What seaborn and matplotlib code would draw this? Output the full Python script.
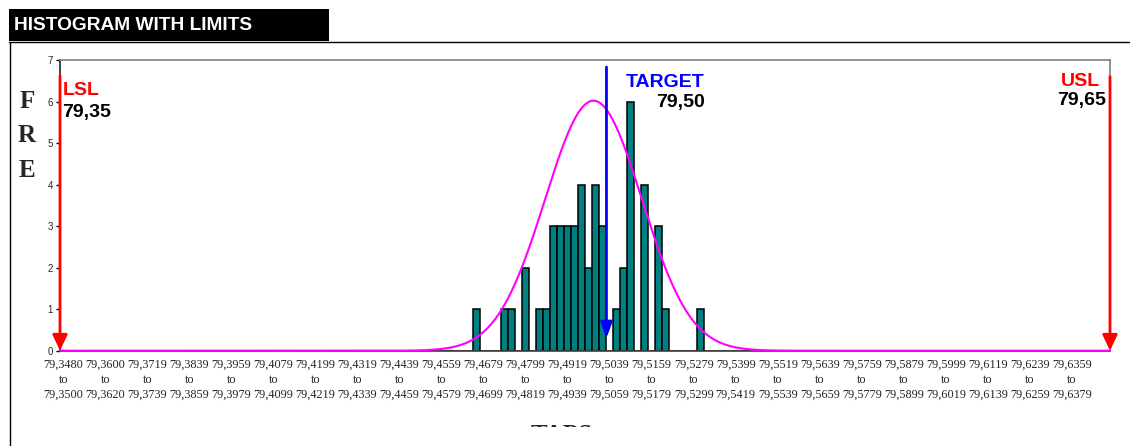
import numpy as np
import pandas as pd
import matplotlib
matplotlib.use("Agg")
import matplotlib.pyplot as plt
from matplotlib.patches import Rectangle
from matplotlib.lines import Line2D
from matplotlib.transforms import Bbox, TransformedBbox
import seaborn as sns

# ---------------- data ----------------
BIN_START = 79.3480          # lower bound of first class
BIN_WIDTH = 0.0019983        # class width
N_BINS = 150

# lower bound of each non-empty class and its frequency
class_lower = [79.4659, 79.4739, 79.4759, 79.4799, 79.4839, 79.4859, 79.4879,
               79.4899, 79.4919, 79.4939, 79.4959, 79.4979, 79.4999, 79.5019,
               79.5059, 79.5079, 79.5099, 79.5139, 79.5179, 79.5199, 79.5299]
class_count = [1, 1, 1, 2, 1, 1, 3,
               3, 3, 3, 4, 2, 4, 3,
               1, 2, 6, 4, 3, 1, 1]

tick_low = ["79,3480", "79,3600", "79,3719", "79,3839", "79,3959", "79,4079",
            "79,4199", "79,4319", "79,4439", "79,4559", "79,4679", "79,4799",
            "79,4919", "79,5039", "79,5159", "79,5279", "79,5399", "79,5519",
            "79,5639", "79,5759", "79,5879", "79,5999", "79,6119", "79,6239",
            "79,6359"]
tick_high = ["79,3500", "79,3620", "79,3739", "79,3859", "79,3979", "79,4099",
             "79,4219", "79,4339", "79,4459", "79,4579", "79,4699", "79,4819",
             "79,4939", "79,5059", "79,5179", "79,5299", "79,5419", "79,5539",
             "79,5659", "79,5779", "79,5899", "79,6019", "79,6139", "79,6259",
             "79,6379"]

LSL = 79.35
USL = 79.65
TARGET = 79.50
TARGET_MARKER_POS = 79.5040   # where the chart draws the target arrow

# fitted normal curve parameters
FIT_MEAN = 79.5003
FIT_SIGMA = 0.0138
FIT_PEAK = 6.02

Y_MAX = 7

# ---------------- styling ----------------
sns.set_style("white")
plt.rcParams["font.family"] = ["Liberation Sans", "DejaVu Sans"]

W, H = 1130, 446
fig = plt.figure(figsize=(W / 100, H / 100), dpi=100)

def fx(px):
    return px / W

def fy(py):
    return 1 - py / H

ax_left, ax_right, ax_top, ax_bottom = 60, 1110, 60, 350.7
ax = fig.add_axes([fx(ax_left), fy(ax_bottom), fx(ax_right - ax_left),
                   (ax_bottom - ax_top) / H])

x_lo = BIN_START
x_hi = BIN_START + N_BINS * BIN_WIDTH
edges = [BIN_START + i * BIN_WIDTH for i in range(N_BINS + 1)]

df = pd.DataFrame({"centre": np.array(class_lower) + BIN_WIDTH / 2,
                   "count": class_count})

sns.histplot(data=df, x="centre", weights="count", bins=edges, ax=ax,
             color="#008080", edgecolor="black", linewidth=1.1, alpha=1,
             shrink=1, zorder=2)

# normal curve
xs = np.linspace(x_lo, x_hi, 1200)
curve = pd.DataFrame({"x": xs,
                      "y": FIT_PEAK * np.exp(-0.5 * ((xs - FIT_MEAN) / FIT_SIGMA) ** 2)})
sns.lineplot(data=curve, x="x", y="y", ax=ax, color="#FF00FF", linewidth=1.5,
             zorder=3, clip_on=False)

ax.set_xlim(x_lo, x_hi)
ax.set_ylim(0, Y_MAX)
ax.set_xlabel("")
ax.set_ylabel("")

tick_pos = [float(s.replace(",", ".")) + BIN_WIDTH / 2 for s in tick_low]
ax.set_xticks(tick_pos)
ax.set_xticklabels([f"{a}\nto\n{b}" for a, b in zip(tick_low, tick_high)],
                   fontfamily="Liberation Serif", fontsize=8.8, linespacing=1.38)
ax.tick_params(axis="x", length=0, pad=5.5)
ax.set_yticks(range(0, Y_MAX + 1))
ax.tick_params(axis="y", length=3, width=1, pad=2, labelsize=7, left=True,
               color="black")

for side in ["top", "right"]:
    ax.spines[side].set_color("#808080")
    ax.spines[side].set_linewidth(1.2)
ax.spines["left"].set_color("#202020")
ax.spines["left"].set_linewidth(1.2)
ax.spines["bottom"].set_color("#404040")
ax.spines["bottom"].set_linewidth(1.2)
for s in ax.spines.values():
    s.set_visible(True)

# limit arrows
def arrow(x, y0, y1, color, hw):
    ax.annotate("", xy=(x, y1), xytext=(x, y0),
                arrowprops=dict(arrowstyle=f"-|>,head_length=0.95,head_width={hw}",
                                lw=2, color=color, shrinkA=0, shrinkB=0,
                                mutation_scale=10),
                annotation_clip=False, zorder=5)

arrow(x_lo, 6.62, 0.0, "#FF0000", 0.45)
arrow(x_hi, 6.6, 0.0, "#FF0000", 0.45)
arrow(TARGET_MARKER_POS, 6.83, 0.3, "#0000FF", 0.35)

fmt = lambda v: f"{v:.2f}".replace(".", ",")
bold = dict(fontweight="bold", fontsize=14)
fig.text(fx(63), fy(90.5), "LSL", color="#FF0000", ha="left", va="center", **bold)
fig.text(fx(62), fy(112), fmt(LSL), color="black", ha="left", va="center", **bold)
fig.text(fx(1100), fy(81), "USL", color="#FF0000", ha="right", va="center", **bold)
fig.text(fx(1106), fy(100), fmt(USL), color="black", ha="right", va="center", **bold)
fig.text(fx(705), fy(82.5), "TARGET", color="#0000FF", ha="right", va="center", **bold)
fig.text(fx(705), fy(102.5), fmt(TARGET), color="black", ha="right", va="center", **bold)

# vertical axis letters
for letter, yy in zip("FRE", [101.7, 136, 170.7]):
    fig.text(fx(27), fy(yy), letter, fontfamily="Liberation Serif",
             fontweight="bold", fontsize=18, ha="center", va="center")

# header bar
fig.add_artist(Rectangle((fx(9), fy(41)), fx(320), (41 - 9) / H,
                         transform=fig.transFigure, facecolor="black",
                         edgecolor="none"))
fig.text(fx(14), fy(25), "HISTOGRAM WITH LIMITS", color="white",
         fontweight="bold", fontsize=13.8, ha="left", va="center")

# outer frame lines
fig.add_artist(Line2D([fx(9), 1], [fy(42.3), fy(42.3)], color="black", lw=1,
                      transform=fig.transFigure))
fig.add_artist(Line2D([fx(9.5), fx(9.5)], [fy(42.3), 0], color="black", lw=1,
                      transform=fig.transFigure))

# axis title, cut off by the chart frame (only the top of it shows)
t = fig.text(fx(561.5), fy(442), "TAPS", fontfamily="Liberation Serif",
             fontweight="bold", fontsize=18, ha="center", va="baseline",
             clip_on=True)
t.set_clip_box(TransformedBbox(Bbox([[fx(500), fy(427)], [fx(620), fy(424.5)]]),
                               fig.transFigure))

fig.savefig("out.png", dpi=100)
